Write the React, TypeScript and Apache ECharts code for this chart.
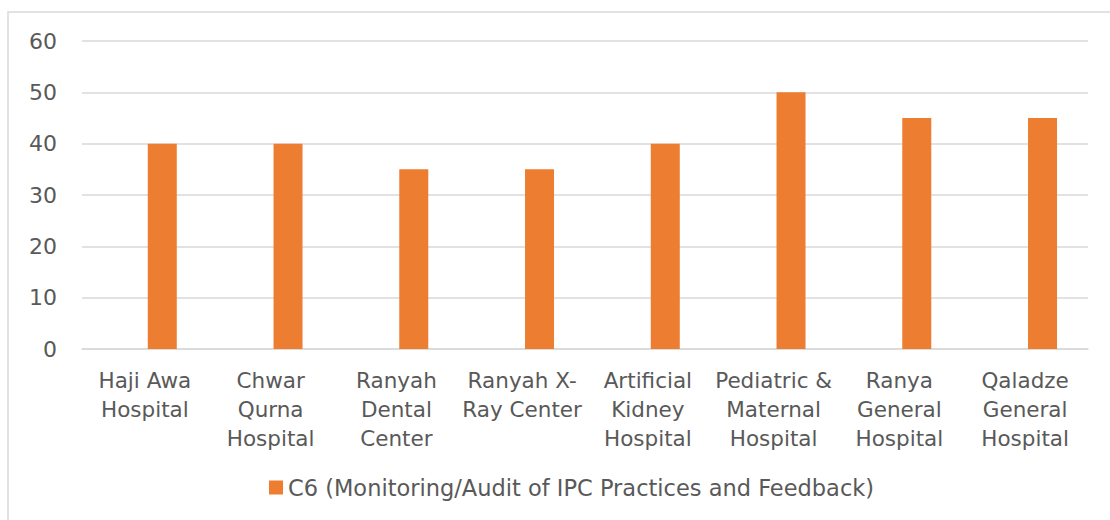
import React, { useEffect, useRef } from "react";
import * as echarts from "echarts";

const categories = [
  "Haji Awa\nHospital",
  "Chwar\nQurna\nHospital",
  "Ranyah\nDental\nCenter",
  "Ranyah X-\nRay Center",
  "Artificial\nKidney\nHospital",
  "Pediatric &\nMaternal\nHospital",
  "Ranya\nGeneral\nHospital",
  "Qaladze\nGeneral\nHospital",
];
const c6Values = [40, 40, 35, 35, 40, 50, 45, 45];
const seriesName = "C6 (Monitoring/Audit of IPC Practices and Feedback)";
const yMin = 0;
const yMax = 60;
const yInterval = 10;

export default function App() {
  const ref = useRef<HTMLDivElement>(null);
  useEffect(() => {
    if (!ref.current) return;
    const chart = echarts.init(ref.current, undefined, { renderer: "svg" });
    const font = "'DejaVu Sans', sans-serif";
    chart.setOption({
      animation: false,
      graphic: [
        {
          type: "rect",
          shape: { x: 8, y: 12, width: 1110, height: 520 },
          style: { fill: "none", stroke: "#d9d9d9", lineWidth: 1.5 },
          silent: true,
        },
      ],
      grid: { left: 82, right: 22, top: 41, bottom: 171 },
      legend: {
        data: [seriesName],
        bottom: 16,
        left: 264,
        itemWidth: 14,
        itemHeight: 14,
        itemGap: 8,
        icon: "rect",
        textStyle: { color: "#595959", fontSize: 22.5, fontFamily: font },
      },
      xAxis: {
        type: "category",
        data: categories,
        axisLine: { show: true, lineStyle: { color: "#d9d9d9", width: 1.5 } },
        axisTick: { show: false },
        axisLabel: {
          color: "#595959",
          fontSize: 21.5,
          fontFamily: font,
          lineHeight: 29,
          margin: 17,
          interval: 0,
          align: "center",
        },
      },
      yAxis: {
        type: "value",
        min: yMin,
        max: yMax,
        interval: yInterval,
        axisLine: { show: false },
        axisTick: { show: false },
        axisLabel: { color: "#595959", fontSize: 22, fontFamily: font, margin: 25 },
        splitLine: { lineStyle: { color: "#d9d9d9", width: 1.5 } },
      },
      series: [
        {
          name: "blank",
          type: "bar",
          data: categories.map(() => null),
          barWidth: 29,
          barGap: "20%",
        },
        {
          name: seriesName,
          type: "bar",
          data: c6Values,
          barWidth: 29,
          barGap: "20%",
          itemStyle: { color: "#ED7D31" },
        },
      ],
    });
    return () => chart.dispose();
  }, []);
  return (
    <div
      ref={ref}
      style={{ position: "absolute", left: 0, top: 0, width: 1110, height: 520, background: "#fff" }}
    />
  );
}
